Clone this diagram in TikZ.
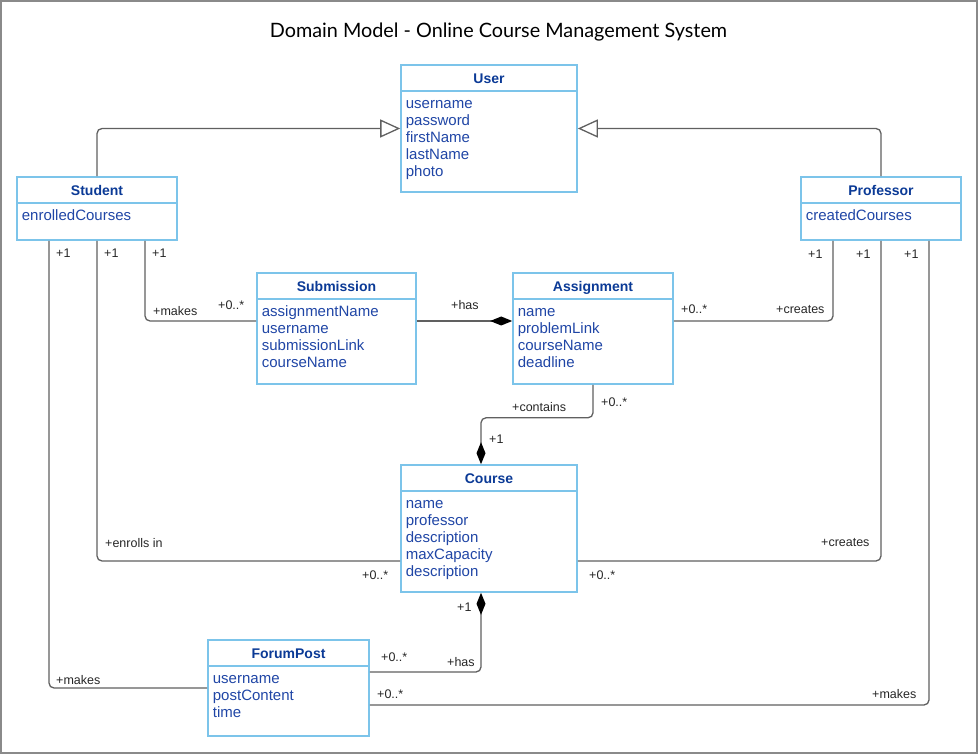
\documentclass[tikz,border=0pt]{standalone}
\usepackage{fontspec}
\setmainfont{Liberation Sans}
\newfontfamily\titlefont{Lato}
\usetikzlibrary{positioning, arrows.meta}
\definecolor{umlblue}{HTML}{7CC4EA}
\definecolor{umlname}{HTML}{0B3A96}
\definecolor{umlattr}{HTML}{2046A6}
\definecolor{linegray}{HTML}{606060}
\definecolor{framegray}{HTML}{8A8A8A}

\begin{document}
\begin{tikzpicture}[
      x=1pt, y=-1pt,
      every node/.style={inner sep=0pt},
      cls/.style args={#1x#2}{draw=umlblue, line width=1.6pt, fill=white,
                   minimum width=#1pt, minimum height=#2pt},
      clsname/.style={font=\bfseries\fontsize{14}{17}\selectfont, text=umlname, anchor=base},
      attrs/.style={font=\fontsize{15}{17}\selectfont, text=umlattr, align=left, anchor=north west},
      divider/.style={draw=umlblue, line width=1.6pt},
      mult/.style={font=\fontsize{12.5}{14}\selectfont, text=black!85, anchor=base west},
      assoc/.style={draw=linegray, line width=1.3pt, rounded corners=5pt},
      gen/.style={assoc, -{Triangle[open, length=20pt, width=18pt, fill=white]}},
      comp/.style={assoc, -{Diamond[length=22pt, width=9pt, color=black]}},
    ]
    \useasboundingbox (0,0) rectangle (978,754);
    \draw[framegray, line width=2pt] (1,1) rectangle (977,753);

    \node[font=\titlefont\fontsize{19.8}{23}\selectfont, anchor=base] (title) at (498.5,38)
      {Domain Model - Online Course Management System};

    % classes
    \node[cls=176x127] (user) at (489,128.5) {};
    \node[clsname] (userN) at ([yshift=-19pt]user.north) {User};
    \draw[divider] ([yshift=-27pt]user.north west) -- ([yshift=-27pt]user.north east);
    \node[attrs] (userA) at ([xshift=5.5pt, yshift=-32.5pt]user.north west)
      {\strut username\\password\\firstName\\lastName\\photo};

    \node[cls=160x63] (student) at (97,208.5) {};
    \node[clsname] (studentN) at ([yshift=-19pt]student.north) {Student};
    \draw[divider] ([yshift=-27pt]student.north west) -- ([yshift=-27pt]student.north east);
    \node[attrs] (studentA) at ([xshift=5.5pt, yshift=-32.5pt]student.north west)
      {\strut enrolledCourses};

    \node[cls=160x63] (professor) at (881,208.5) {};
    \node[clsname] (professorN) at ([yshift=-19pt]professor.north) {Professor};
    \draw[divider] ([yshift=-27pt]professor.north west) -- ([yshift=-27pt]professor.north east);
    \node[attrs] (professorA) at ([xshift=5.5pt, yshift=-32.5pt]professor.north west)
      {\strut createdCourses};

    \node[cls=159x111] (submission) at (336.5,328.5) {};
    \node[clsname] (submissionN) at ([yshift=-19pt]submission.north) {Submission};
    \draw[divider] ([yshift=-27pt]submission.north west) -- ([yshift=-27pt]submission.north east);
    \node[attrs] (submissionA) at ([xshift=5.5pt, yshift=-32.5pt]submission.north west)
      {\strut assignmentName\\username\\submissionLink\\courseName};

    \node[cls=160x111] (assignment) at (593,328.5) {};
    \node[clsname] (assignmentN) at ([yshift=-19pt]assignment.north) {Assignment};
    \draw[divider] ([yshift=-27pt]assignment.north west) -- ([yshift=-27pt]assignment.north east);
    \node[attrs] (assignmentA) at ([xshift=5.5pt, yshift=-32.5pt]assignment.north west)
      {\strut name\\problemLink\\courseName\\deadline};

    \node[cls=176x127] (course) at (489,528.5) {};
    \node[clsname] (courseN) at ([yshift=-19pt]course.north) {Course};
    \draw[divider] ([yshift=-27pt]course.north west) -- ([yshift=-27pt]course.north east);
    \node[attrs] (courseA) at ([xshift=5.5pt, yshift=-32.5pt]course.north west)
      {\strut name\\professor\\description\\maxCapacity\\description};

    \node[cls=161x96] (forumpost) at (288.5,688) {};
    \node[clsname] (forumpostN) at ([yshift=-19pt]forumpost.north) {ForumPost};
    \draw[divider] ([yshift=-27pt]forumpost.north west) -- ([yshift=-27pt]forumpost.north east);
    \node[attrs] (forumpostA) at ([xshift=5.5pt, yshift=-32.5pt]forumpost.north west)
      {\strut username\\postContent\\time};

    % generalization
    \draw[gen] (student.north) |- (user.west);
    \draw[gen] (professor.north) |- (user.east);

    % associations
    \draw[assoc] ([xshift=48pt]student.south) |- ([yshift=7.5pt]submission.west);
    \draw[assoc] (student.south) |- ([yshift=-32.5pt]course.west);
    \draw[assoc] ([xshift=-48pt]student.south) |- (forumpost.west);
    \draw[assoc] ([xshift=-48pt]professor.south) |- ([yshift=7.5pt]assignment.east);
    \draw[assoc] (professor.south) |- ([yshift=-32.5pt]course.east);
    \draw[assoc] ([xshift=48pt]professor.south) |- ([yshift=-17pt]forumpost.east);

    % compositions
    \draw[comp] ([yshift=7.5pt]submission.east) -- ([yshift=7.5pt]assignment.west);
    \draw[comp] (assignment.south) -- ++(0,33) -| ([xshift=-8pt]course.north);
    \draw[comp] ([yshift=16pt]forumpost.east) -| ([xshift=-8pt]course.south);

    % role names and multiplicities
    \foreach \x/\y/\t [count=\i] in {
        56/258/+1, 104/258/+1, 152/258/+1, 153/315.5/+makes, 218/309/+0..*,
        451/310/+has, 512/411/+contains, 601/406/+0..*, 489/443/+1,
        808/259/+1, 856/259/+1, 904/259/+1, 681/314/+0..*, 776/314/+creates,
        105/547/+enrolls in, 362/579/+0..*, 821/546.5/+creates, 589/579/+0..*,
        457/611.5/+1, 381/661.5/+0..*, 447/666.5/+has, 56/684/+makes,
        377/698.5/+0..*, 872/698.5/+makes}
      \node[mult] (m\i) at (\x,\y) {\t};
  \end{tikzpicture}
\end{document}
